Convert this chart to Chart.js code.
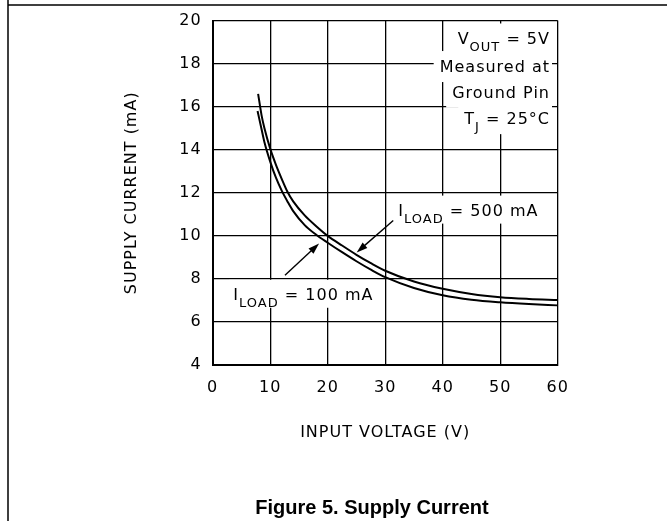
<!DOCTYPE html>
<html><head><meta charset="utf-8">
<script src="https://cdn.jsdelivr.net/npm/chart.js@4"></script>
<style>html,body{margin:0;padding:0;background:#fff;}canvas{display:block;}</style>
</head><body>
<canvas id="c" width="671" height="521"></canvas>
<script>
// ---- data ----
const inputVoltage500 = [7.9, 8.5, 9, 10, 11, 12, 13, 14, 16, 18, 20, 22.5, 25, 27.5, 30, 35, 40, 45, 50, 55, 60];
const supplyCurrent500 = [16.6, 15.6, 15.0, 14.05, 13.3, 12.65, 12.05, 11.6, 10.95, 10.45, 10.0, 9.55, 9.12, 8.73, 8.38, 7.88, 7.54, 7.3, 7.15, 7.07, 7.02];
const inputVoltage100 = [7.8, 8.5, 9, 10, 11, 12, 13, 14, 16, 18, 20, 22.5, 25, 27.5, 30, 35, 40, 45, 50, 55, 60];
const supplyCurrent100 = [15.8, 14.95, 14.35, 13.45, 12.7, 12.1, 11.6, 11.15, 10.5, 10.05, 9.68, 9.24, 8.82, 8.43, 8.08, 7.58, 7.24, 7.03, 6.91, 6.83, 6.77];
const xTickValues = [0, 10, 20, 30, 40, 50, 60];
const yTickValues = [4, 6, 8, 10, 12, 14, 16, 18, 20];
const xTitle = 'INPUT VOLTAGE (V)';
const yTitle = 'SUPPLY CURRENT (mA)';
const caption = 'Figure 5. Supply Current';

const FONT = 'DejaVu Sans';

function pts(xs, ys) { return xs.map((x, i) => ({ x: x, y: ys[i] })); }

// rich text segments: [text, isSubscript]
const conditionLines = [
  { v: 58.66, i: 18.89, seg: [['V', 0], ['OUT', 1], [' = 5V', 0]] },
  { v: 58.66, i: 17.61, seg: [['Measured at', 0]] },
  { v: 58.66, i: 16.42, seg: [['Ground Pin', 0]] },
  { v: 58.66, i: 15.19, seg: [['T', 0], ['J', 1], [' = 25\u00B0C', 0]] }
];
const loadLabels = [
  { v: 32.28, i: 10.94, seg: [['I', 0], ['LOAD', 1], [' = 500 mA', 0]], arrow: [31.4, 10.71, 25.04, 9.23] },
  { v: 3.58, i: 7.03, seg: [['I', 0], ['LOAD', 1], [' = 100 mA', 0]], arrow: [12.57, 8.17, 18.5, 9.64] }
];

function segFont(sub) { return (sub ? '13px ' : '16px ') + '"' + FONT + '"'; }
function measure(ctx, seg) {
  let w = 0;
  seg.forEach(s => { ctx.font = segFont(s[1]); w += ctx.measureText(s[0]).width; });
  return w;
}
function drawRich(ctx, seg, x, y) {
  seg.forEach(s => {
    ctx.font = segFont(s[1]);
    ctx.fillText(s[0], x, y + (s[1] ? 7 : 0));
    x += ctx.measureText(s[0]).width;
  });
}

const notes = {
  id: 'notes',
  beforeDraw(chart) {
    chart.ctx.letterSpacing = '1px';
  },
  beforeDatasetsDraw(chart) {
    const ctx = chart.ctx, xs = chart.scales.x, ys = chart.scales.y;
    ctx.save();
    ctx.fillStyle = '#fff';
    conditionLines.forEach(l => {
      const w = measure(ctx, l.seg);
      const rx = xs.getPixelForValue(l.v), by = ys.getPixelForValue(l.i);
      ctx.fillRect(rx - w - 6, by - 21, w + 8, 31);
    });
    loadLabels.forEach(l => {
      const w = measure(ctx, l.seg);
      const lx = xs.getPixelForValue(l.v), by = ys.getPixelForValue(l.i);
      ctx.fillRect(lx - 4, by - 20, w + 8, 28);
    });
    ctx.restore();
  },
  afterDatasetsDraw(chart) {
    const ctx = chart.ctx, xs = chart.scales.x, ys = chart.scales.y;
    ctx.save();
    ctx.fillStyle = '#000';
    ctx.strokeStyle = '#000';
    ctx.textBaseline = 'alphabetic';
    ctx.textAlign = 'left';
    conditionLines.forEach(l => {
      const w = measure(ctx, l.seg);
      drawRich(ctx, l.seg, xs.getPixelForValue(l.v) - w, ys.getPixelForValue(l.i));
    });
    loadLabels.forEach(l => {
      drawRich(ctx, l.seg, xs.getPixelForValue(l.v), ys.getPixelForValue(l.i));
      const x1 = xs.getPixelForValue(l.arrow[0]), y1 = ys.getPixelForValue(l.arrow[1]);
      const x2 = xs.getPixelForValue(l.arrow[2]), y2 = ys.getPixelForValue(l.arrow[3]);
      const a = Math.atan2(y2 - y1, x2 - x1);
      const L = 11, W = 3.6;
      ctx.lineWidth = 1.4;
      ctx.beginPath();
      ctx.moveTo(x1, y1);
      ctx.lineTo(x2 - Math.cos(a) * L * 0.8, y2 - Math.sin(a) * L * 0.8);
      ctx.stroke();
      ctx.beginPath();
      ctx.moveTo(x2, y2);
      ctx.lineTo(x2 - Math.cos(a) * L + Math.sin(a) * W, y2 - Math.sin(a) * L - Math.cos(a) * W);
      ctx.lineTo(x2 - Math.cos(a) * L - Math.sin(a) * W, y2 - Math.sin(a) * L + Math.cos(a) * W);
      ctx.closePath();
      ctx.fill();
    });
    ctx.restore();
  },
  afterDraw(chart) {
    const ctx = chart.ctx;
    ctx.save();
    // page frame
    ctx.strokeStyle = '#000';
    ctx.lineWidth = 1.5;
    ctx.beginPath();
    ctx.moveTo(8, 0); ctx.lineTo(8, 521);
    ctx.moveTo(8, 5); ctx.lineTo(667, 5);
    ctx.stroke();
    // caption
    ctx.letterSpacing = '0px';
    ctx.fillStyle = '#000';
    ctx.font = 'bold 20px "Liberation Sans", Arial, sans-serif';
    ctx.textAlign = 'center';
    ctx.textBaseline = 'alphabetic';
    ctx.fillText(caption, 372, 514);
    ctx.restore();
  }
};

const tickFont = { family: FONT, size: 16 };
new Chart(document.getElementById('c'), {
  type: 'line',
  data: {
    datasets: [
      { label: 'ILOAD = 500 mA', data: pts(inputVoltage500, supplyCurrent500) },
      { label: 'ILOAD = 100 mA', data: pts(inputVoltage100, supplyCurrent100) }
    ]
  },
  options: {
    responsive: false,
    animation: false,
    devicePixelRatio: 1,
    layout: { padding: { left: 122, right: 113.3, top: 19.3, bottom: 76 } },
    elements: {
      point: { radius: 0 },
      line: { borderColor: '#000', borderWidth: 2, cubicInterpolationMode: 'monotone', fill: false }
    },
    plugins: { legend: { display: false }, tooltip: { enabled: false } },
    scales: {
      x: {
        type: 'linear', min: 0, max: 60,
        afterBuildTicks: s => { s.ticks = xTickValues.map(v => ({ value: v })); },
        ticks: { color: '#000', font: tickFont, padding: 13, maxRotation: 0 },
        grid: { color: '#000', lineWidth: 1.3, drawTicks: false },
        border: { color: '#000', width: 2 },
        title: { display: true, text: xTitle, color: '#000', font: { family: FONT, size: 16 }, padding: { top: 0, bottom: 3 } },
        afterFit: s => { s.height = 80; }
      },
      y: {
        type: 'linear', min: 4, max: 20,
        afterBuildTicks: s => { s.ticks = yTickValues.map(v => ({ value: v })); },
        ticks: { color: '#000', font: tickFont, padding: 11 },
        grid: { color: '#000', lineWidth: 1.3, drawTicks: false },
        border: { color: '#000', width: 2 },
        title: { display: true, text: yTitle, color: '#000', font: { family: FONT, size: 16 }, padding: { top: 0, bottom: 0 } },
        afterFit: s => { s.width = 90.7; }
      }
    }
  },
  plugins: [notes]
});
</script>
</body></html>
